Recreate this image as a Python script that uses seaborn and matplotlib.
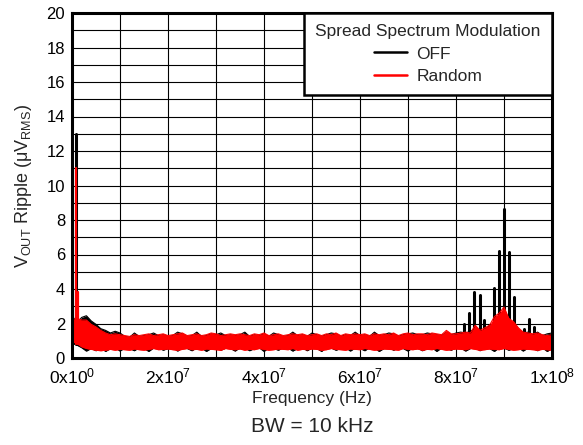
import numpy as np
import pandas as pd
import matplotlib
matplotlib.use("Agg")
import matplotlib.pyplot as plt
import seaborn as sns
from matplotlib.lines import Line2D
from matplotlib.ticker import FixedLocator, MultipleLocator

# ---------------- data ----------------
freq_mhz = list(range(0, 101))

off_hi = [
    2.50, 2.00, 2.35, 2.45, 2.15, 1.95, 1.70, 1.60, 1.45, 1.55,
    1.45, 1.25, 1.20, 1.45, 1.25, 1.30, 1.35, 1.45, 1.30, 1.35,
    1.25, 1.30, 1.50, 1.40, 1.25, 1.30, 1.50, 1.25, 1.30, 1.40,
    1.35, 1.45, 1.30, 1.35, 1.30, 1.35, 1.50, 1.25, 1.35, 1.30,
    1.40, 1.25, 1.45, 1.35, 1.25, 1.30, 1.50, 1.30, 1.35, 1.25,
    1.45, 1.35, 1.25, 1.35, 1.45, 1.40, 1.25, 1.35, 1.30, 1.50,
    1.30, 1.35, 1.25, 1.50, 1.30, 1.35, 1.45, 1.40, 1.25, 1.35,
    1.40, 1.45, 1.35, 1.35, 1.45, 1.40, 1.35, 1.30, 1.50, 1.35,
    1.45, 1.50, 1.45, 1.55, 1.70, 1.50, 1.65, 1.90, 2.00, 2.20,
    2.40, 2.10, 1.90, 1.60, 1.45, 1.50, 1.35, 1.50, 1.30, 1.40,
    1.45]
off_lo = [
    0.85, 0.75, 0.60, 0.40, 0.55, 0.42, 0.58, 0.38, 0.55, 0.60,
    0.40, 0.58, 0.55, 0.42, 0.60, 0.55, 0.38, 0.58, 0.60, 0.45,
    0.55, 0.60, 0.40, 0.58, 0.55, 0.42, 0.60, 0.58, 0.38, 0.55,
    0.60, 0.45, 0.58, 0.55, 0.40, 0.60, 0.58, 0.42, 0.55, 0.60,
    0.38, 0.58, 0.55, 0.45, 0.60, 0.58, 0.40, 0.55, 0.60, 0.42,
    0.58, 0.55, 0.38, 0.60, 0.58, 0.45, 0.55, 0.60, 0.40, 0.58,
    0.55, 0.42, 0.60, 0.58, 0.38, 0.55, 0.60, 0.45, 0.58, 0.55,
    0.40, 0.60, 0.58, 0.42, 0.55, 0.60, 0.38, 0.58, 0.55, 0.45,
    0.60, 0.58, 0.40, 0.55, 0.60, 0.42, 0.58, 0.55, 0.38, 0.60,
    0.58, 0.45, 0.55, 0.60, 0.40, 0.58, 0.55, 0.42, 0.60, 0.38,
    0.55]
rnd_hi = [
    2.20, 2.30, 2.20, 2.20, 1.95, 1.80, 1.60, 1.45, 1.35, 1.40,
    1.35, 1.30, 1.25, 1.35, 1.30, 1.35, 1.40, 1.30, 1.35, 1.40,
    1.30, 1.35, 1.40, 1.45, 1.30, 1.35, 1.40, 1.30, 1.35, 1.45,
    1.40, 1.30, 1.35, 1.40, 1.35, 1.40, 1.35, 1.30, 1.40, 1.35,
    1.45, 1.30, 1.35, 1.40, 1.30, 1.35, 1.40, 1.35, 1.40, 1.30,
    1.35, 1.40, 1.30, 1.40, 1.35, 1.45, 1.30, 1.40, 1.35, 1.40,
    1.35, 1.40, 1.30, 1.40, 1.35, 1.40, 1.35, 1.45, 1.30, 1.40,
    1.45, 1.35, 1.40, 1.40, 1.35, 1.45, 1.40, 1.35, 1.60, 1.40,
    1.40, 1.45, 1.50, 1.45, 1.90, 1.60, 1.75, 1.90, 2.40, 2.60,
    2.95, 2.30, 2.10, 1.75, 1.50, 1.45, 1.40, 1.45, 1.35, 1.30,
    1.35]
rnd_lo = [
    0.95, 0.85, 0.65, 0.55, 0.50, 0.45, 0.42, 0.45, 0.50, 0.45,
    0.50, 0.48, 0.45, 0.52, 0.48, 0.45, 0.50, 0.55, 0.48, 0.50,
    0.52, 0.48, 0.45, 0.50, 0.55, 0.48, 0.50, 0.45, 0.52, 0.50,
    0.48, 0.45, 0.55, 0.50, 0.48, 0.52, 0.45, 0.50, 0.48, 0.55,
    0.50, 0.45, 0.48, 0.52, 0.50, 0.48, 0.55, 0.45, 0.50, 0.48,
    0.52, 0.50, 0.45, 0.48, 0.55, 0.50, 0.48, 0.45, 0.52, 0.50,
    0.48, 0.55, 0.50, 0.45, 0.48, 0.52, 0.50, 0.48, 0.45, 0.55,
    0.50, 0.48, 0.52, 0.45, 0.50, 0.48, 0.55, 0.50, 0.45, 0.48,
    0.52, 0.50, 0.48, 0.55, 0.50, 0.45, 0.48, 0.52, 0.50, 0.48,
    0.55, 0.50, 0.45, 0.48, 0.52, 0.50, 0.48, 0.45, 0.50, 0.48,
    0.45]

off_spike_mhz = [0.9, 81.7, 82.8, 83.8, 84.9, 85.9, 88.0, 89.0, 90.06, 91.1, 92.1, 94.2, 95.3, 96.3]
off_spike_peak = [13.0, 1.97, 2.59, 3.80, 3.65, 2.18, 4.08, 6.22, 8.62, 6.13, 3.52, 1.66, 2.28, 1.82]
rnd_spike_mhz = [0.9, 1.25]
rnd_spike_peak = [11.0, 3.8]
spike_base = 0.8

series_names = ["OFF", "Random"]
series_colors = ["black", "red"]

x_ticks = [0, 2e7, 4e7, 6e7, 8e7, 1e8]
x_tick_labels = [r"0x10$^{0}$", r"2x10$^{7}$", r"4x10$^{7}$",
                 r"6x10$^{7}$", r"8x10$^{7}$", r"1x10$^{8}$"]
y_ticks = list(range(0, 21, 2))

# ---------------- style ----------------
sns.set_theme(style="white")
plt.rcParams["font.family"] = ["Liberation Sans", "DejaVu Sans"]
plt.rcParams["mathtext.fontset"] = "custom"
plt.rcParams["mathtext.rm"] = "Liberation Sans"
plt.rcParams["mathtext.it"] = "Liberation Sans:italic"
plt.rcParams["mathtext.bf"] = "Liberation Sans:bold"

W, H = 583, 445
fig = plt.figure(figsize=(W / 100, H / 100), dpi=100)
ax = fig.add_axes([72 / W, 1 - 358 / H, 480 / W, 345 / H])

f_hz = np.array(freq_mhz) * 1e6


def draw_series(hi, lo, sp_f, sp_p, color, z, spw):
    ax.fill_between(f_hz, lo, hi, color=color, lw=0, zorder=z)
    env = pd.DataFrame({
        "f": np.concatenate([f_hz, f_hz]),
        "v": list(hi) + list(lo),
        "part": ["hi"] * len(f_hz) + ["lo"] * len(f_hz),
    })
    sns.lineplot(data=env, x="f", y="v", units="part", estimator=None,
                 color=color, lw=0.8, ax=ax, zorder=z + 0.05, legend=False)
    sp_vals = []
    for p in sp_p:
        sp_vals += [spike_base, p]
    sp = pd.DataFrame({
        "f": np.repeat(np.array(sp_f) * 1e6, 2),
        "v": sp_vals,
        "part": np.repeat(np.arange(len(sp_f)), 2),
    })
    sns.lineplot(data=sp, x="f", y="v", units="part", estimator=None, sort=False,
                 color=color, lw=spw, ax=ax, zorder=z + 0.1, legend=False)


draw_series(off_hi, off_lo, off_spike_mhz, off_spike_peak, series_colors[0], 2.0, 2.2)
draw_series(rnd_hi, rnd_lo, rnd_spike_mhz, rnd_spike_peak, series_colors[1], 2.3, 1.6)

ax.set_xlim(0, 1e8)
ax.set_ylim(0, 20)
ax.xaxis.set_major_locator(FixedLocator(x_ticks))
ax.set_xticklabels(x_tick_labels)
ax.xaxis.set_minor_locator(MultipleLocator(1e7))
ax.yaxis.set_major_locator(FixedLocator(y_ticks))
ax.yaxis.set_minor_locator(MultipleLocator(1))
ax.set_xlabel("")
ax.set_ylabel("")
ax.tick_params(which="both", length=0, colors="black")
ax.tick_params(axis="x", pad=6, labelsize=12.5)
ax.tick_params(axis="y", pad=5, labelsize=12)
ax.set_axisbelow(True)
ax.grid(True, which="both", color="black", lw=0.8)
for s in ax.spines.values():
    s.set_visible(True)
    s.set_color("black")
    s.set_linewidth(2.2)
    s.set_zorder(5)

handles = [Line2D([], [], color=c, lw=1.8) for c in series_colors]
leg = ax.legend(handles, series_names, title="Spread Spectrum Modulation",
                loc="upper right", borderaxespad=0, frameon=True, fancybox=False,
                framealpha=1, edgecolor="black", fontsize=12.5, title_fontsize=12.5,
                handlelength=1.9, handletextpad=0.55, labelspacing=0.4,
                alignment="center", borderpad=0.66)
leg.get_frame().set_linewidth(1.8)
leg.set_zorder(10)

cx = (72 + 552) / 2 / W
fig.text(24 / W, 1 - 186 / H, "V$_{\\mathrm{OUT}}$ Ripple (\u03bcV$_{\\mathrm{RMS}}$)",
         rotation=90, ha="center", va="center", fontsize=13)
fig.text(cx, 1 - 399 / H, "Frequency (Hz)", ha="center", va="center", fontsize=12.5)
fig.text(cx, 1 - 427 / H, "BW = 10 kHz", ha="center", va="center", fontsize=15)

fig.savefig("out.png", dpi=100)
